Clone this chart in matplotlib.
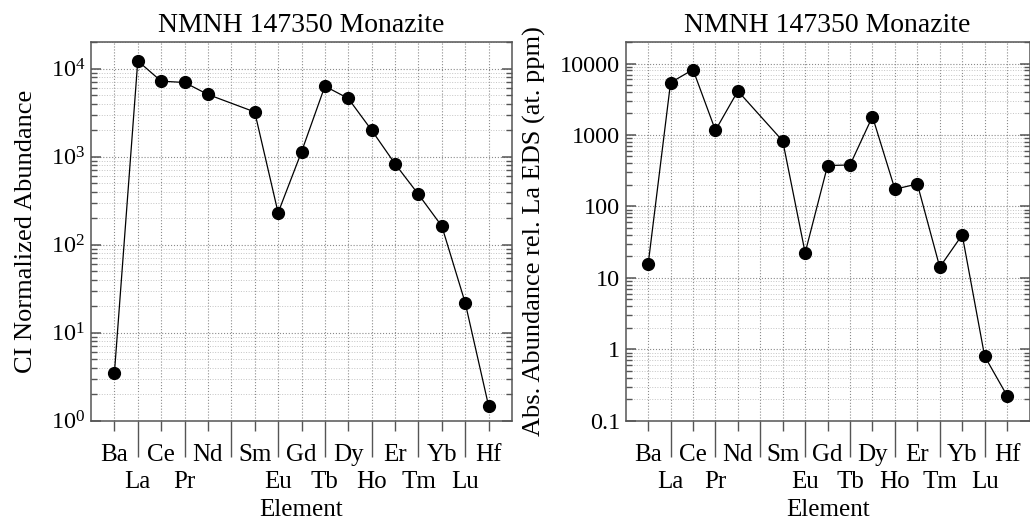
import matplotlib
matplotlib.use("Agg")
import matplotlib.pyplot as plt
from matplotlib.ticker import FixedLocator, NullFormatter, LogLocator

plt.rcParams['font.family'] = ['Liberation Serif', 'DejaVu Serif']
plt.rcParams['mathtext.fontset'] = 'custom'
plt.rcParams['mathtext.rm'] = 'Liberation Serif'
plt.rcParams['mathtext.it'] = 'Liberation Serif:italic'
plt.rcParams['mathtext.bf'] = 'Liberation Serif:bold'

# Element positions / labels (Pm at position 6 left blank)
positions = list(range(1, 18))
elements = ["Ba", "La", "Ce", "Pr", "Nd", "", "Sm", "Eu", "Gd", "Tb",
            "Dy", "Ho", "Er", "Tm", "Yb", "Lu", "Hf"]

# Plotted elements (no Pm)
x_pts = [1, 2, 3, 4, 5, 7, 8, 9, 10, 11, 12, 13, 14, 15, 16, 17]
ci_norm = [3.45, 12200, 7180, 6940, 5070, 3210, 230, 1130, 6300, 4570,
           1990, 826, 372, 162, 21.8, 1.47]
abs_abund = [15.4, 5400, 8220, 1160, 4120, 824, 22.4, 373, 380, 1810,
             174, 206, 14.1, 39.9, 0.80, 0.224]

title = "NMNH 147350 Monazite"
right_yticks = [0.1, 1, 10, 100, 1000, 10000]
right_yticklabels = ["0.1", "1", "10", "100", "1000", "10000"]

W, H = 1030, 521
fig = plt.figure(figsize=(W / 100, H / 100), dpi=100)

spine_col = "#555555"

def setup(ax, ylim):
    ax.set_yscale("log")
    ax.set_xlim(0, 18)
    ax.set_ylim(*ylim)
    for s in ax.spines.values():
        s.set_color(spine_col)
        s.set_linewidth(1.1)
    odd = [p for p in positions if p % 2 == 1]
    even = [p for p in positions if p % 2 == 0]
    ax.xaxis.set_major_locator(FixedLocator(odd))
    ax.xaxis.set_minor_locator(FixedLocator(even))
    ax.set_xticklabels([elements[p - 1] for p in odd])
    ax.set_xticklabels([elements[p - 1] for p in even], minor=True)
    ax.tick_params(axis="x", which="major", direction="out", length=7,
                   width=1.0, color=spine_col, labelsize=18, pad=10)
    ax.tick_params(axis="x", which="minor", direction="out", length=26,
                   width=1.0, color=spine_col, labelsize=18, pad=10)
    ax.yaxis.set_minor_locator(LogLocator(base=10, subs=range(2, 10), numticks=20))
    ax.yaxis.set_minor_formatter(NullFormatter())
    ax.tick_params(axis="y", which="major", direction="in", length=7.5,
                   width=1.1, color=spine_col, labelsize=17.5, left=True, right=True, pad=4)
    ax.tick_params(axis="y", which="minor", direction="in", length=4,
                   width=1.0, color=spine_col, left=True, right=True)
    ax.grid(True, which="major", axis="both", linestyle=":", color="#8a8a8a", linewidth=0.8)
    ax.grid(True, which="minor", axis="x", linestyle=":", color="#8a8a8a", linewidth=0.8)
    ax.grid(True, which="minor", axis="y", linestyle=":", color="#c4c4c4", linewidth=0.7)
    ax.set_axisbelow(True)
    ax.set_title(title, fontsize=20, pad=7)
    ax.set_xlabel("Element", fontsize=18, labelpad=4.5)

ax1 = fig.add_axes([91 / W, 1 - 420.7 / H, (512 - 91) / W, (420.7 - 42) / H])
setup(ax1, (1, 2e4))
ax1.plot(x_pts, ci_norm, color="black", linewidth=0.9, marker="o",
         markersize=8.5, markerfacecolor="black", markeredgecolor="black")
ax1.set_ylabel("CI Normalized Abundance", fontsize=19, labelpad=10)

ax2 = fig.add_axes([625.7 / W, 1 - 420.7 / H, (1029.5 - 625.7) / W, (420.7 - 42) / H])
setup(ax2, (0.1, 2e4))
ax2.plot(x_pts, abs_abund, color="black", linewidth=0.9, marker="o",
         markersize=8.5, markerfacecolor="black", markeredgecolor="black")
ax2.set_yticks(right_yticks)
ax2.set_yticklabels(right_yticklabels)
ax2.yaxis.set_minor_formatter(NullFormatter())
ax2.set_ylabel("Abs. Abundance rel. La EDS (at. ppm)", fontsize=19, labelpad=10)

fig.savefig("out.png", dpi=100)
